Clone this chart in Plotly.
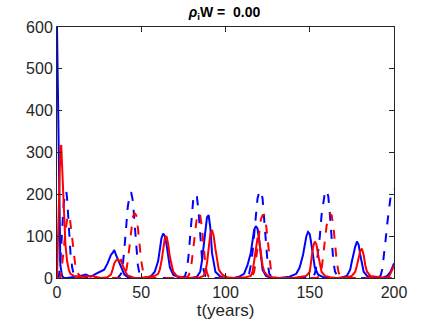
import plotly.graph_objects as go

# (t, value) pairs, one list per curve
blue_solid = [
    (0, 600), (0.5, 450), (1, 250), (1.5, 100), (2, 30), (3, 5), (4, 0), (6, 0),
    (10, 2), (14, 5), (17, 8), (20, 3), (23, 10), (26, 15), (28, 20), (30, 35),
    (31, 45), (32, 55), (33, 60), (34, 67), (35, 55), (36, 45), (37, 35), (38, 25),
    (39, 15), (40, 8), (42, 2), (45, 0), (50, 0), (54, 2), (56, 5), (58, 15),
    (60, 40), (61, 70), (62, 95), (63, 106), (64, 100), (65, 80), (66, 50), (67, 25),
    (69, 8), (72, 2), (76, 0), (80, 0), (83, 3), (85, 15), (86, 40), (87, 75),
    (88, 110), (89, 145), (90, 150), (91, 120), (92, 60), (94, 15), (97, 3), (100, 0),
    (105, 0), (108, 3), (111, 10), (113, 30), (115, 60), (116, 90), (117, 115), (118, 124),
    (119, 118), (120, 90), (121, 45), (122, 20), (124, 5), (127, 0), (132, 0), (138, 3),
    (142, 10), (144, 25), (146, 55), (147, 80), (148, 100), (149, 110), (150, 105), (151, 80),
    (152, 50), (153, 25), (155, 8), (158, 2), (163, 0), (168, 0), (172, 5), (174, 20),
    (175, 40), (176, 60), (177, 75), (178, 87), (179, 80), (180, 55), (181, 30), (182, 15),
    (184, 5), (188, 0), (193, 0), (196, 5), (198, 15), (199, 25), (200, 35),
]

blue_dash = [
    (0, 0), (1, 0), (2, 40), (3, 130), (4, 180), (5, 200), (5.5, 208), (6, 190),
    (7, 120), (8, 60), (9, 25), (10, 8), (12, 0), (36, 0), (38, 10), (39, 30),
    (40, 70), (41, 120), (42, 170), (43, 195), (44, 205), (45, 185), (46, 130), (47, 70),
    (48, 30), (49, 10), (50, 2), (52, 0), (74, 0), (76, 5), (77, 20), (78, 50),
    (79, 100), (80, 160), (81, 195), (82, 200), (83, 195), (84, 160), (85, 100), (86, 50),
    (87, 20), (88, 5), (90, 0), (112, 0), (114, 10), (115, 30), (116, 60), (117, 100),
    (118, 150), (119, 190), (120, 205), (121, 208), (122, 190), (123, 140), (124, 80), (125, 35),
    (126, 10), (128, 0), (151, 0), (153, 10), (154, 30), (155, 60), (156, 100), (157, 150),
    (158, 185), (159, 205), (160, 209), (161, 195), (162, 150), (163, 90), (164, 40), (165, 15),
    (167, 0), (190, 0), (192, 5), (193, 20), (194, 50), (195, 90), (196, 130), (197, 170),
    (198, 195), (199, 209), (200, 212),
]

red_solid = [
    (0, 0), (1, 150), (1.5, 250), (2, 310), (2.5, 318), (3, 260), (4, 150), (5, 80),
    (6, 40), (7, 20), (8, 10), (10, 5), (13, 2), (16, 3), (20, 5), (23, 3),
    (26, 0), (30, 2), (32, 8), (33, 20), (34, 35), (35, 42), (36, 44), (37, 40),
    (38, 43), (39, 30), (40, 20), (41, 12), (42, 6), (44, 2), (46, 0), (50, 0),
    (55, 2), (58, 5), (60, 10), (61, 20), (62, 40), (63, 70), (64, 95), (65, 100),
    (66, 80), (67, 50), (68, 30), (69, 15), (71, 5), (74, 2), (78, 0), (85, 2),
    (87, 5), (88, 15), (89, 35), (90, 70), (91, 105), (92, 115), (93, 100), (94, 70),
    (95, 40), (96, 20), (98, 8), (101, 2), (105, 0), (112, 2), (115, 5), (116, 15),
    (117, 40), (118, 70), (119, 96), (120, 90), (121, 60), (122, 30), (123, 15), (125, 5),
    (128, 2), (132, 0), (140, 0), (145, 2), (148, 5), (150, 15), (151, 45), (152, 75),
    (153, 87), (154, 80), (155, 55), (156, 30), (157, 15), (159, 5), (162, 2), (166, 0),
    (172, 2), (175, 5), (177, 15), (178, 30), (179, 50), (180, 65), (181, 70), (182, 55),
    (183, 30), (184, 15), (186, 5), (190, 2), (195, 0), (197, 3), (198, 10), (199, 20),
    (200, 30),
]

red_dash = [
    (0, 0), (2, 0), (3, 30), (4, 80), (5, 110), (6, 140), (7, 150), (7.5, 148),
    (8, 130), (9, 90), (10, 50), (11, 25), (12, 12), (14, 4), (17, 0), (38, 0),
    (40, 5), (41, 15), (42, 40), (43, 80), (44, 120), (45, 145), (46, 155), (47, 150),
    (48, 120), (49, 80), (50, 40), (51, 18), (52, 6), (54, 0), (76, 0), (78, 5),
    (79, 15), (80, 40), (81, 80), (82, 120), (83, 145), (84, 155), (85, 150), (86, 120),
    (87, 75), (88, 35), (89, 12), (90, 3), (92, 0), (114, 0), (116, 5), (117, 15),
    (118, 40), (119, 75), (120, 110), (121, 140), (122, 150), (123, 150), (124, 130), (125, 90),
    (126, 45), (127, 18), (128, 5), (130, 0), (154, 0), (156, 5), (157, 20), (158, 50),
    (159, 90), (160, 125), (161, 145), (162, 153), (163, 150), (164, 125), (165, 80), (166, 40),
    (167, 15), (168, 5), (170, 0), (200, 0),
]

x_ticks = [0, 50, 100, 150, 200]
y_ticks = [0, 100, 200, 300, 400, 500, 600]

fig = go.Figure()

for pts, color, dash in [
    (blue_solid, "#0000ff", "solid"),
    (blue_dash, "#0000ff", "dash"),
    (red_solid, "#ff0000", "solid"),
    (red_dash, "#ff0000", "dash"),
]:
    fig.add_trace(
        go.Scatter(
            x=[p[0] for p in pts],
            y=[p[1] for p in pts],
            mode="lines",
            line=dict(color=color, width=2, dash=dash),
            showlegend=False,
        )
    )

axis_style = dict(
    showline=True,
    linecolor="#262626",
    linewidth=1,
    mirror="ticks",
    ticks="inside",
    ticklen=5,
    tickcolor="#262626",
    showgrid=False,
    zeroline=False,
    tickfont=dict(size=16, color="#262626"),
)

fig.update_layout(
    width=436,
    height=327,
    margin=dict(l=57, r=42, t=27, b=45),
    paper_bgcolor="white",
    plot_bgcolor="white",
    font=dict(family="Liberation Sans, Arial, sans-serif", color="#262626"),
    title=dict(
        text="<b><i>ρ</i><sub>i</sub>W =  0.00</b>",
        x=0.515,
        xanchor="center",
        y=0.962,
        yanchor="middle",
        font=dict(size=14, color="black"),
    ),
    xaxis=dict(
        range=[0, 200],
        tickvals=x_ticks,
        title=dict(text="t(years)", font=dict(size=17), standoff=2),
        **axis_style,
    ),
    yaxis=dict(range=[0, 600], tickvals=y_ticks, ticklabelstandoff=0, **axis_style),
)

# the page's body has a default 8px margin; drop it so the figure sits at 0,0
fig.write_html(
    "out.html",
    config={"displayModeBar": False},
    post_script="document.body.style.margin = '0';",
)
